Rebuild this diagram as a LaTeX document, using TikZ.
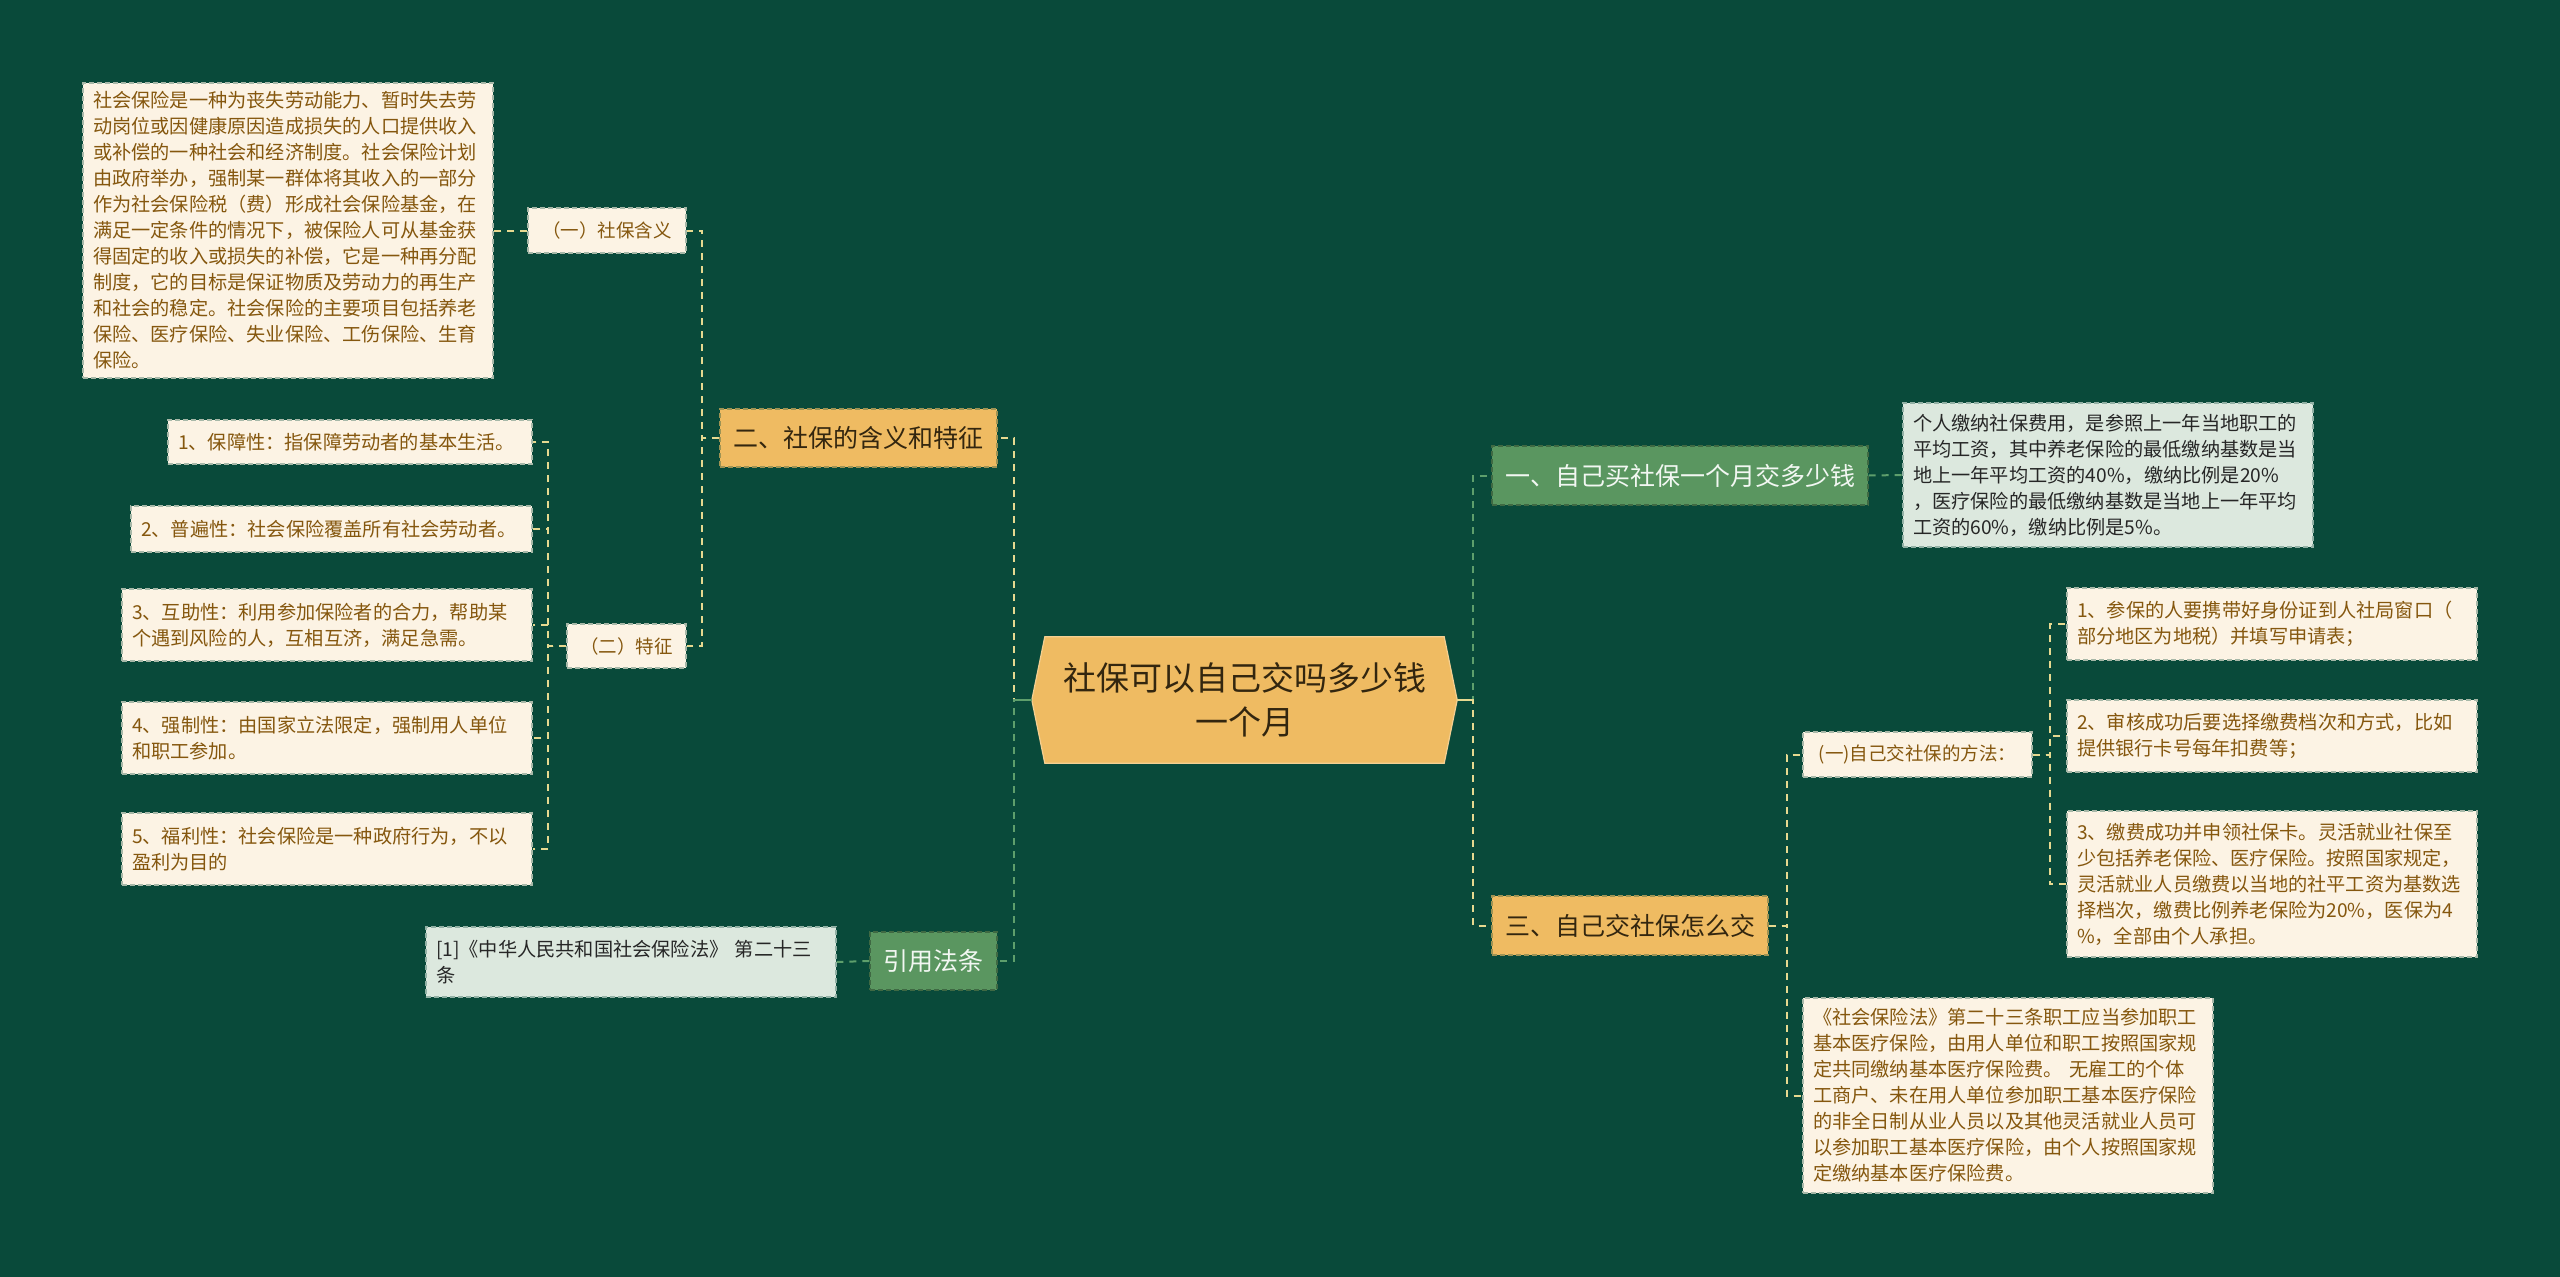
\documentclass[tikz,border=0pt]{standalone}
\usepackage{fontspec}
\setmainfont{Noto Sans CJK SC}
\usetikzlibrary{backgrounds}
\definecolor{bg}{HTML}{094A3A}
\definecolor{orangefill}{HTML}{EFBB62}
\definecolor{greenfill}{HTML}{5A9660}
\definecolor{creamfill}{HTML}{FCF3E4}
\definecolor{lightfill}{HTML}{DCE8DE}
\definecolor{browntext}{HTML}{85570E}
\definecolor{darktext}{HTML}{33260F}
\definecolor{yline}{HTML}{E6D990}
\definecolor{gline}{HTML}{5E9F6C}
\tikzset{
  box/.style={rectangle, inner xsep=10pt, inner ysep=0pt, line width=1.4pt, dash pattern=on 5pt off 3pt},
  orangebox/.style={box, fill=orangefill, draw=orangefill!65!bg, text=darktext, font=\fontsize{25}{30}\selectfont, align=center},
  greenbox/.style={box, fill=greenfill, draw=greenfill!70!black, text=white!92!greenfill, font=\fontsize{25}{30}\selectfont, align=center},
  creambox/.style={box, fill=creamfill, draw=creamfill!65!bg, text=browntext, font=\fontsize{19.2}{26}\selectfont},
  lightbox/.style={box, fill=lightfill, draw=lightfill!65!bg, text=black!85, font=\fontsize{19.2}{26}\selectfont},
  leaf/.style={text width=390pt, align=left},
  rootnode/.style={rectangle, inner sep=0pt, minimum width=425pt, minimum height=126pt, text=darktext, font=\fontsize{33}{44}\selectfont, align=center},
  yconn/.style={draw=yline, line width=2pt, dash pattern=on 7pt off 6pt},
  gconn/.style={draw=gline, line width=2pt, dash pattern=on 7pt off 6pt},
}
\begin{document}
\begin{tikzpicture}[x=1pt,y=-1pt]
\useasboundingbox (0,0) rectangle (2560,1277);

% root
\node[rootnode] (root) at (1244.5,700) {社保可以自己交吗多少钱\\一个月};
\begin{scope}[on background layer]
  \fill[bg] (0,0) rectangle (2560,1277);
  \filldraw[fill=orangefill, draw=orangefill!70!white, line width=1.2pt]
    ([xshift=13pt]root.north west) -- (root.west) -- ([xshift=13pt]root.south west)
    -- ([xshift=-13pt]root.south east) -- (root.east) -- ([xshift=-13pt]root.north east) -- cycle;
\end{scope}

% left branch
\node[orangebox, minimum width=277pt, minimum height=58pt] (n2) at (858.5,438) {二、社保的含义和特征};
\node[creambox, minimum width=158pt, minimum height=45pt, align=center, font=\fontsize{18.5}{24}\selectfont] (n2a) at (607,230.5) {（一）社保含义};
\node[creambox, leaf, minimum height=295pt] (n2aa) at (288,230.5) {社会保险是一种为丧失劳动能力、暂时失去劳\\动岗位或因健康原因造成损失的人口提供收入\\或补偿的一种社会和经济制度。社会保险计划\\由政府举办，强制某一群体将其收入的一部分\\作为社会保险税（费）形成社会保险基金，在\\满足一定条件的情况下，被保险人可从基金获\\得固定的收入或损失的补偿，它是一种再分配\\制度，它的目标是保证物质及劳动力的再生产\\和社会的稳定。社会保险的主要项目包括养老\\保险、医疗保险、失业保险、工伤保险、生育\\保险。};
\node[creambox, minimum width=119pt, minimum height=44pt, align=center, font=\fontsize{18.5}{24}\selectfont] (n2b) at (626.5,646) {（二）特征};
\node[creambox, text width=344pt, align=left, minimum height=44pt] (f1) at (350,442) {1、保障性：指保障劳动者的基本生活。};
\node[creambox, text width=381pt, align=left, minimum height=46pt] (f2) at (331.5,529) {2、普遍性：社会保险覆盖所有社会劳动者。};
\node[creambox, leaf, minimum height=72pt] (f3) at (327,625) {3、互助性：利用参加保险者的合力，帮助某\\个遇到风险的人，互相互济，满足急需。};
\node[creambox, leaf, minimum height=72pt] (f4) at (327,738) {4、强制性：由国家立法限定，强制用人单位\\和职工参加。};
\node[creambox, leaf, minimum height=72pt] (f5) at (327,849) {5、福利性：社会保险是一种政府行为，不以\\盈利为目的};
\node[greenbox, minimum width=127pt, minimum height=58pt] (ref) at (933.5,961) {引用法条};
\node[lightbox, leaf, minimum height=70pt] (refc) at (631,962) {[1]《中华人民共和国社会保险法》 第二十三\\条};

% right branch
\node[greenbox, minimum width=376pt, minimum height=59pt] (n1) at (1680,475.5) {一、自己买社保一个月交多少钱};
\node[lightbox, leaf, minimum height=144pt] (n1a) at (2108,475) {个人缴纳社保费用，是参照上一年当地职工的\\平均工资，其中养老保险的最低缴纳基数是当\\地上一年平均工资的40\%，缴纳比例是20\%\\，医疗保险的最低缴纳基数是当地上一年平均\\工资的60\%，缴纳比例是5\%。};
\node[orangebox, minimum width=276pt, minimum height=59pt] (n3) at (1630,925.5) {三、自己交社保怎么交};
\node[creambox, minimum width=229pt, minimum height=45pt, align=center, font=\fontsize{18.5}{24}\selectfont] (m) at (1917.5,754.5) {(一)自己交社保的方法：};
\node[creambox, leaf, minimum height=72pt] (m1) at (2272,624) {1、参保的人要携带好身份证到人社局窗口（\\部分地区为地税）并填写申请表；};
\node[creambox, leaf, minimum height=72pt] (m2) at (2272,736) {2、审核成功后要选择缴费档次和方式，比如\\提供银行卡号每年扣费等；};
\node[creambox, leaf, minimum height=146pt] (m3) at (2272,884) {3、缴费成功并申领社保卡。灵活就业社保至\\少包括养老保险、医疗保险。按照国家规定，\\灵活就业人员缴费以当地的社平工资为基数选\\择档次，缴费比例养老保险为20\%，医保为4\\\%，全部由个人承担。};
\node[creambox, leaf, minimum height=195pt] (law) at (2008,1095.5) {《社会保险法》第二十三条职工应当参加职工\\基本医疗保险，由用人单位和职工按照国家规\\定共同缴纳基本医疗保险费。 无雇工的个体\\工商户、未在用人单位参加职工基本医疗保险\\的非全日制从业人员以及其他灵活就业人员可\\以参加职工基本医疗保险，由个人按照国家规\\定缴纳基本医疗保险费。};

% connectors
\begin{scope}[on background layer]
\draw[yconn] (root.west) -- ([xshift=-18pt]root.west) |- (n2.east);
\draw[gconn] (root.west) -- ([xshift=-18pt]root.west) |- (ref.east);
\draw[gconn] (root.east) -- ([xshift=16pt]root.east) |- (n1.west);
\draw[yconn] (root.east) -- ([xshift=16pt]root.east) |- (n3.west);
\draw[draw=gline, line width=2pt] (root.west) -- ([xshift=-18pt]root.west);
\draw[draw=yline, line width=2pt] (root.east) -- ([xshift=16pt]root.east);

\draw[yconn] (n2.west) -- ([xshift=-17pt]n2.west) |- (n2a.east);
\draw[yconn] (n2.west) -- ([xshift=-17pt]n2.west) |- (n2b.east);
\draw[yconn] (n2a.west) -- (n2aa.east);
\foreach \f in {f1,f2,f3,f4,f5}
  \draw[yconn] (n2b.west) -- ([xshift=-18pt]n2b.west) |- (\f.east);
\draw[gconn] (ref.west) -- (refc.east);

\draw[gconn] (n1.east) -- (n1a.west);
\draw[yconn] (n3.east) -- ([xshift=18pt]n3.east) |- (m.west);
\draw[yconn] (n3.east) -- ([xshift=18pt]n3.east) |- (law.west);
\foreach \k in {m1,m2,m3}
  \draw[yconn] (m.east) -- ([xshift=17pt]m.east) |- (\k.west);
\end{scope}
\end{tikzpicture}
\end{document}
